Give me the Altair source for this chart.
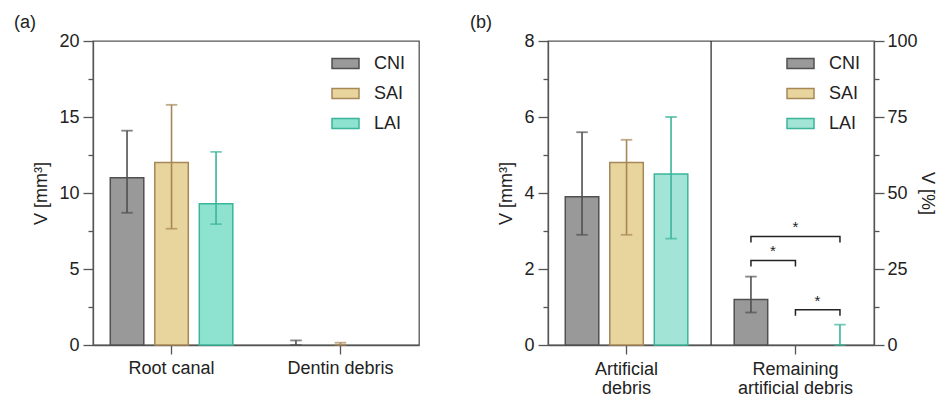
import altair as alt
import pandas as pd

GROUPS = ["CNI", "SAI", "LAI"]

# Panel (a)
A_CATS = ["Root canal", "Dentin debris"]
A_MEAN = {"Root canal": [11.0, 12.0, 9.3], "Dentin debris": [0.0, 0.0, 0.0]}
A_LOW = {"Root canal": [8.7, 7.65, 7.95], "Dentin debris": [0.0, 0.0, 0.0]}
A_HIGH = {"Root canal": [14.1, 15.8, 12.7], "Dentin debris": [0.3, 0.15, 0.0]}

# Panel (b)
B_CATS = ["Artificial debris", "Remaining artificial debris"]
B_ART_MEAN = [3.9, 4.8, 4.5]
B_ART_LOW = [2.9, 2.9, 2.8]
B_ART_HIGH = [5.6, 5.4, 6.0]
B_REM_MEAN = [15.0, 0.0, 0.0]      # percent
B_REM_LOW = [10.7, 0.0, 0.0]
B_REM_HIGH = [22.5, 0.0, 6.7]

# significance brackets (percent scale)
BRACKETS = [("CNI", "SAI", 27.8), ("CNI", "LAI", 35.7), ("SAI", "LAI", 11.6)]
LEG = 2.0
STAR = "*"

FILL_A = ["#999999", "#e8d49d", "#8ee3d0"]
FILL_B = ["#999999", "#e8d49d", "#a2e5d6"]
STROKE = ["#505050", "#a68757", "#3ab59a"]

FONT = "Liberation Sans"
TXT = "#222222"
AXC = "#555555"


def rows(cat, means, lows, highs):
    return [dict(cat=cat, grp=g, mean=m, lo=l, hi=h)
            for g, m, l, h in zip(GROUPS, means, lows, highs)]


a_df = pd.DataFrame(sum([rows(c, A_MEAN[c], A_LOW[c], A_HIGH[c]) for c in A_CATS], []))
art_df = pd.DataFrame(rows(B_CATS[0], B_ART_MEAN, B_ART_LOW, B_ART_HIGH))
rem_df = pd.DataFrame(rows(B_CATS[1], B_REM_MEAN, B_REM_LOW, B_REM_HIGH))

br_rows, star_rows = [], []
for i, (g1, g2, lev) in enumerate(BRACKETS):
    for k, (g, v) in enumerate([(g1, lev - LEG), (g1, lev), (g2, lev), (g2, lev - LEG)]):
        br_rows.append(dict(cat=B_CATS[1], grp=g, v=v, b=i, o=k))
    i1, i2 = GROUPS.index(g1), GROUPS.index(g2)
    star_rows.append(dict(cat=B_CATS[1], grp=GROUPS[(i1 + i2) // 2], v=lev,
                          half=(i1 + i2) % 2, t=STAR))
br_df = pd.DataFrame(br_rows)
star_df = pd.DataFrame(star_rows)
div_df = pd.DataFrame([dict(cat=B_CATS[0])])

SYM = "M-1,-0.37L1,-0.37L1,0.37L-1,0.37Z"
legend = alt.Legend(title=None, orient="none", legendX=238, legendY=8,
                    symbolType=SYM, symbolSize=729, symbolStrokeWidth=1.5,
                    labelFontSize=18, labelFont=FONT, labelColor=TXT,
                    labelOffset=14, rowPadding=6, padding=0)

X_SCALE = dict(paddingInner=0.2, paddingOuter=0.065)


def x_enc(cats, label_expr=None, pad=5, **kw):
    ax = dict(title=None, labelAngle=0, tickSize=9, labelPadding=pad,
              labelLineHeight=19)
    if label_expr:
        ax["labelExpr"] = label_expr
    return alt.X("cat:N", sort=cats,
                 scale=alt.Scale(domain=cats, **X_SCALE),
                 axis=alt.Axis(**ax), **kw)


XOFF = alt.XOffset("grp:N", sort=GROUPS,
                   scale=alt.Scale(domain=GROUPS, paddingInner=0.247, paddingOuter=0.1415))


def y_enc(field, dom, step, major, title, orient="left"):
    vals = []
    v = dom[0]
    while v <= dom[1] + 1e-9:
        vals.append(round(v, 3))
        v += step
    ax = alt.Axis(values=vals, title=title, orient=orient, grid=False,
                  labelExpr=f"datum.value % {major} === 0 ? datum.label : ''",
                  tickSize={"condition": {"test": f"datum.value % {major} !== 0", "value": 5},
                            "value": 10},
                  labelPadding=4 if orient == "left" else 3,
                  titlePadding=8 if orient == "left" else 0)
    return alt.Y(f"{field}:Q", scale=alt.Scale(domain=dom, nice=False), axis=ax)


def fill_enc(rng):
    return alt.Fill("grp:N", sort=GROUPS, scale=alt.Scale(domain=GROUPS, range=rng), legend=legend)


STROKE_ENC = alt.Stroke("grp:N", sort=GROUPS, scale=alt.Scale(domain=GROUPS, range=STROKE), legend=legend)


def bar_layers(df, cats, dom, step, major, title, fills, orient="left", label_expr=None, pad=5):
    x = x_enc(cats, label_expr, pad)
    base = alt.Chart(df)
    bars = base.mark_bar(strokeWidth=1.5).encode(
        x=x, xOffset=XOFF, y=y_enc("mean", dom, step, major, title, orient),
        fill=fill_enc(fills), stroke=STROKE_ENC
    ).transform_filter("datum.mean > 0")
    err = base.mark_rule(strokeWidth=1.6).encode(
        x=x, xOffset=XOFF, y=y_enc("lo", dom, step, major, title, orient), y2="hi:Q",
        stroke=STROKE_ENC
    ).transform_filter("datum.hi > 0")
    cap_hi = base.mark_tick(filled=False, thickness=0.3, size=10, strokeWidth=1.5).encode(
        x=x, xOffset=XOFF, y=y_enc("hi", dom, step, major, title, orient), stroke=STROKE_ENC
    ).transform_filter("datum.hi > 0")
    cap_lo = base.mark_tick(filled=False, thickness=0.3, size=10, strokeWidth=1.5).encode(
        x=x, xOffset=XOFF, y=y_enc("lo", dom, step, major, title, orient), stroke=STROKE_ENC
    ).transform_filter("datum.hi > 0")
    return [bars, err, cap_hi, cap_lo], x


TITLE_KW = dict(anchor="start", frame="group", fontSize=18, font=FONT,
                fontWeight="normal", color=TXT, offset=0)

# ---------- panel (a)
la, _ = bar_layers(a_df, A_CATS, [0, 20], 2.5, 5, "V [mm³]", FILL_A)
panel_a = alt.layer(*la).properties(
    width=326, height=304, title=alt.TitleParams("(a)", dx=-79, **TITLE_KW))

# ---------- panel (b)
lbl_expr = ("datum.value == 'Artificial debris' ? ['Artificial', 'debris'] : "
            "['Remaining', 'artificial debris']")
lb, xb = bar_layers(art_df, B_CATS, [0, 8], 1, 2, "V [mm³]", FILL_B, label_expr=lbl_expr, pad=6)
divider = alt.Chart(div_df).mark_rule(color="#333333", strokeWidth=1.3, xOffset=17).encode(
    x=x_enc(B_CATS, lbl_expr, 6, bandPosition=1))
left = alt.layer(*lb, divider)

rb, xr = bar_layers(rem_df, B_CATS, [0, 100], 12.5, 25, "V [%]", FILL_B,
                    orient="right", label_expr=lbl_expr, pad=6)
yr = y_enc("v", [0, 100], 12.5, 25, "V [%]", "right")
brackets = alt.Chart(br_df).mark_line(color="#222222", strokeWidth=1.5).encode(
    x=xr, xOffset=XOFF, y=yr, detail="b:N", order="o:Q")
stars = alt.Chart(star_df).mark_text(fontSize=15, font=FONT, color="#222222",
                                     baseline="middle", dy=-9).encode(
    x=xr, xOffset=XOFF, y=yr, text="t:N")
stars0 = stars.transform_filter("datum.half == 0")
stars1 = stars.transform_filter("datum.half == 1").mark_text(
    fontSize=15, font=FONT, color="#222222", baseline="middle", dy=-9, dx=22)
right = alt.layer(*rb, brackets, stars0, stars1)

panel_b = alt.layer(left, right).resolve_scale(y="independent").properties(
    width=326, height=304, title=alt.TitleParams("(b)", dx=-78, **TITLE_KW))

chart = alt.hconcat(panel_a, panel_b, spacing=49).resolve_scale(
    fill="independent", stroke="independent").resolve_legend(
    fill="independent", stroke="independent").properties(
    padding={"left": 5, "top": 5, "right": 4, "bottom": 0}).configure_view(
    stroke=AXC, strokeWidth=1.3).configure_axis(
    domainColor=AXC, domainWidth=1.3, tickColor=AXC, tickWidth=1.3,
    labelFont=FONT, labelFontSize=18, labelColor=TXT,
    titleFont=FONT, titleFontSize=18, titleFontWeight="normal", titleColor=TXT)

chart.save("out.html", embed_options={"renderer": "svg", "actions": False})
